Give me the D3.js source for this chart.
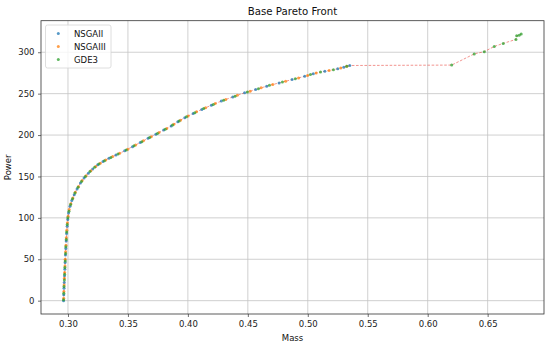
<!DOCTYPE html>
<html>
<head>
<meta charset="utf-8">
<script src="https://cdn.jsdelivr.net/npm/d3@7"></script>
<style>
  html, body { margin: 0; padding: 0; background: #fff; }
  svg { display: block; font-family: "DejaVu Sans", sans-serif; }
</style>
</head>
<body>
<svg id="chart" width="550" height="346"></svg>
<script>
// ---- data ----
const seriesNames = ["NSGAII", "NSGAIII", "GDE3"];

const nsga2Mass = [0.2963,0.2965,0.2967,0.2969,0.2971,0.2974,0.2976,0.2979,0.2982,0.2985,0.2988,0.2993,0.2998,0.3005,0.3017,0.3032,0.3052,0.3076,0.3104,0.3134,0.3170,0.3206,0.3248,0.3292,0.3342,0.3400,0.3473,0.3538,0.3603,0.3668,0.3733,0.3798,0.3861,0.3916,0.3974,0.4044,0.4116,0.4196,0.4279,0.4374,0.4473,0.4565,0.4657,0.4761,0.4869,0.4974,0.5046,0.5142,0.5250,0.5300,0.5350];
const nsga2Power = [0,7,15,22,30,38,46,55,63,72,81,90,98,106,114,121,128,135,142,148,154,159,164,168,172,176,181,186,191,196,201,206,211,216,221,226,231,236,241,246,251,255,259,263,267,271,274,277,280,282,284];

const nsga3Mass = [0.2964,0.2966,0.2968,0.2970,0.2972,0.2975,0.2977,0.2980,0.2983,0.2986,0.2990,0.2995,0.3001,0.3010,0.3024,0.3041,0.3061,0.3088,0.3118,0.3151,0.3191,0.3231,0.3269,0.3315,0.3373,0.3431,0.3499,0.3564,0.3629,0.3694,0.3759,0.3824,0.3883,0.3938,0.4002,0.4072,0.4148,0.4228,0.4316,0.4412,0.4519,0.4611,0.4708,0.4815,0.4923,0.4998,0.5070,0.5178,0.5275,0.5325];
const nsga3Power = [3,11,19,27,34,42,50,59,67,76,85,94,102,110,117,124,131,138,145,151,157,162,166,170,174,178,183,188,193,198,203,208,213,218,223,228,233,238,243,248,253,257,261,265,269,272,275,278,281,283];

const gde3Mass = [0.2963,0.2965,0.2967,0.2970,0.2972,0.2974,0.2977,0.2980,0.2982,0.2986,0.2989,0.2994,0.2999,0.3008,0.3022,0.3038,0.3058,0.3084,0.3113,0.3145,0.3183,0.3222,0.3258,0.3304,0.3358,0.3417,0.3486,0.3551,0.3616,0.3681,0.3746,0.3811,0.3872,0.3927,0.3988,0.4058,0.4132,0.4212,0.4298,0.4393,0.4496,0.4588,0.4680,0.4788,0.4896,0.5022,0.5106,0.5214,0.5325,0.6200,0.6388,0.6472,0.6555,0.6630,0.6736,0.6742,0.6763,0.6780];
const gde3Power = [1,9,17,25,32,40,48,57,65,74,83,92,100,108,116,123,130,137,144,150,156,161,165,169,173,177,182,187,192,197,202,207,212,217,222,227,232,237,242,247,252,256,260,264,268,273,276,279,283,284.5,298,300.7,307,310.7,315.5,319.8,320.6,322];

const xTicks = [0.30,0.35,0.40,0.45,0.50,0.55,0.60,0.65];
const yTicks = [0,50,100,150,200,250,300];
const colors = ["#1f77b4", "#ff7f0e", "#2ca02c"];

// ---- layout ----
const svg = d3.select("#chart");
const L = 41, R = 544, T = 20.7, B = 314;
const FS = 8.5;
const x = d3.scaleLinear().domain([0.2775, 0.697]).range([L, R]);
const y = d3.scaleLinear().domain([-16.1, 338.1]).range([B, T]);

// grid
const g = svg.append("g");
g.selectAll("line.gx").data(xTicks).enter().append("line")
  .attr("x1", d => x(d)).attr("x2", d => x(d)).attr("y1", T).attr("y2", B)
  .attr("stroke", "#c4c4c4").attr("stroke-width", 0.8);
g.selectAll("line.gy").data(yTicks).enter().append("line")
  .attr("x1", L).attr("x2", R).attr("y1", d => y(d)).attr("y2", d => y(d))
  .attr("stroke", "#c4c4c4").attr("stroke-width", 0.8);

// axes
const xAxis = d3.axisBottom(x).tickValues(xTicks).tickFormat(d3.format(".2f")).tickSize(3).tickPadding(3.5);
const yAxis = d3.axisLeft(y).tickValues(yTicks).tickFormat(d3.format("d")).tickSize(3).tickPadding(3.5);
const gx = svg.append("g").attr("transform", `translate(0,${B})`).call(xAxis);
const gy = svg.append("g").attr("transform", `translate(${L},0)`).call(yAxis);
[gx, gy].forEach(a => {
  a.select(".domain").remove();
  a.selectAll("text").attr("font-size", FS).attr("font-family", "DejaVu Sans").attr("fill", "#222");
  a.selectAll("line").attr("stroke", "#333").attr("stroke-width", 0.7);
});

// combined front line (dashed)
const all = [];
[[nsga2Mass, nsga2Power], [nsga3Mass, nsga3Power], [gde3Mass, gde3Power]].forEach(([m, p]) => {
  m.forEach((v, i) => all.push([v, p[i]]));
});
all.sort((a, b) => a[0] - b[0]);
svg.append("path")
  .datum(all)
  .attr("d", d3.line().x(d => x(d[0])).y(d => y(d[1])))
  .attr("fill", "none")
  .attr("stroke", "#e8483f")
  .attr("stroke-opacity", 0.65)
  .attr("stroke-width", 0.9)
  .attr("stroke-dasharray", "2.6,1.6");

// points
const series = [
  { m: nsga2Mass, p: nsga2Power },
  { m: nsga3Mass, p: nsga3Power },
  { m: gde3Mass, p: gde3Power }
];
series.forEach((s, k) => {
  svg.append("g").selectAll("circle").data(s.m).enter().append("circle")
    .attr("cx", d => x(d))
    .attr("cy", (d, i) => y(s.p[i]))
    .attr("r", 1.5)
    .attr("fill", colors[k])
    .attr("fill-opacity", 0.75);
});

// frame
svg.append("rect").attr("x", L).attr("y", T).attr("width", R - L).attr("height", B - T)
  .attr("fill", "none").attr("stroke", "#333").attr("stroke-width", 0.8);

// title & labels
svg.append("text").attr("x", (L + R) / 2).attr("y", 15).attr("text-anchor", "middle")
  .attr("font-size", 10.2).attr("fill", "#111").text("Base Pareto Front");
svg.append("text").attr("x", (L + R) / 2).attr("y", 341).attr("text-anchor", "middle")
  .attr("font-size", FS).attr("fill", "#111").text("Mass");
svg.append("text").attr("transform", `translate(11,${(T + B) / 2}) rotate(-90)`).attr("text-anchor", "middle")
  .attr("font-size", FS).attr("fill", "#111").text("Power");

// legend
const lg = svg.append("g");
lg.append("rect").attr("x", 45.5).attr("y", 25).attr("width", 65.5).attr("height", 43)
  .attr("rx", 2).attr("fill", "#fff").attr("fill-opacity", 0.8)
  .attr("stroke", "#d5d5d5").attr("stroke-width", 0.8);
seriesNames.forEach((n, i) => {
  const cy = 33.5 + i * 13;
  lg.append("circle").attr("cx", 58.3).attr("cy", cy).attr("r", 1.5)
    .attr("fill", colors[i]).attr("fill-opacity", 0.75);
  lg.append("text").attr("x", 74).attr("y", cy + 3).attr("font-size", FS).attr("fill", "#111").text(n);
});
</script>
</body>
</html>
